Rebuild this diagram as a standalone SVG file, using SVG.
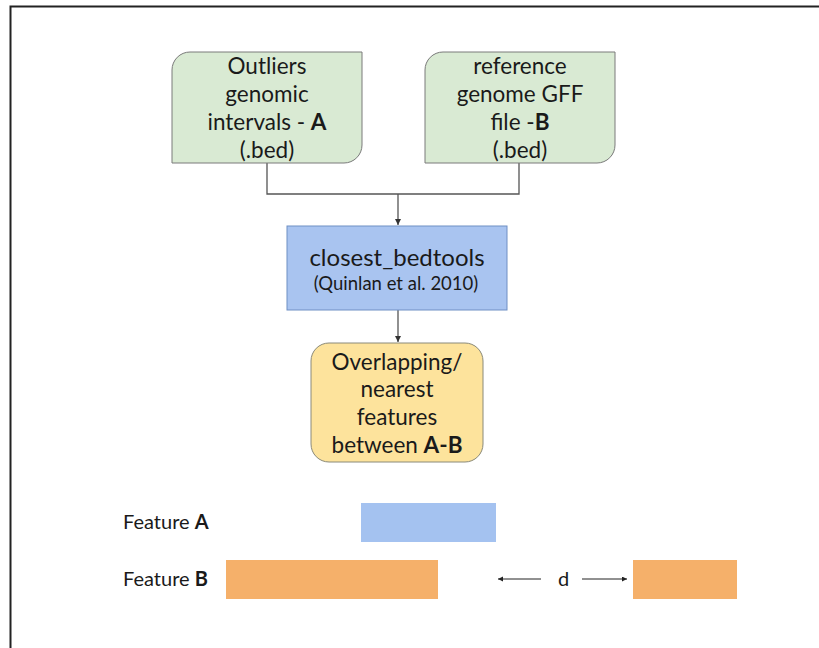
<svg xmlns="http://www.w3.org/2000/svg" width="819" height="648" viewBox="0 0 819 648">
<defs>
<style>
text{font-family:Lato,"Open Sans","Liberation Sans",sans-serif;fill:#1a1a1a;text-anchor:middle}
.big{font-size:22.5px}
.cb{font-size:24px}
.sm{font-size:18.5px}
.lbl{font-size:20px;text-anchor:start}
.b{font-weight:bold}
.green{fill:#d9ead3;stroke:#7a7a7a;stroke-width:1}
.conn{fill:none;stroke:#555;stroke-width:1.3}
.dim{fill:none;stroke:#222;stroke-width:1}
</style>
<marker id="ah" markerWidth="8" markerHeight="8" refX="6" refY="3" orient="auto" markerUnits="userSpaceOnUse">
<path d="M0,0 L6,3 L0,6 Z" fill="#333"/>
</marker>
<marker id="ah2" markerWidth="8" markerHeight="8" refX="5" refY="2.5" orient="auto" markerUnits="userSpaceOnUse">
<path d="M0,0 L5,2.5 L0,5 Z" fill="#222"/>
</marker>
</defs>
<rect width="819" height="648" fill="#fff"/>
<path d="M10.5,648 V6.5 H819" fill="none" stroke="#222" stroke-width="2"/>

<g id="connectors">
<path class="conn" d="M267,163 V194 H519 V163"/>
<path class="conn" d="M398,194 V225" marker-end="url(#ah)"/>
<path class="conn" d="M398,310 V342" marker-end="url(#ah)"/>
</g>

<g id="nodeA">
<path class="green" d="M190,52 H362 V145 A18,18 0 0 1 344,163 H172 V70 A18,18 0 0 1 190,52 Z"/>
<text class="big" x="267" y="74">Outliers</text>
<text class="big" x="267" y="102">genomic</text>
<text class="big" x="267" y="130">intervals - <tspan class="b">A</tspan></text>
<text class="big" x="267" y="158">(.bed)</text>
</g>

<g id="nodeB">
<path class="green" d="M443,52 H615 V145 A18,18 0 0 1 597,163 H425 V70 A18,18 0 0 1 443,52 Z"/>
<text class="big" x="520" y="74">reference</text>
<text class="big" x="520" y="102">genome GFF</text>
<text class="big" x="520" y="130">file -<tspan class="b">B</tspan></text>
<text class="big" x="520" y="158">(.bed)</text>
</g>

<g id="closest">
<rect x="287" y="226" width="220" height="84" fill="#a9c4f0" stroke="#6f8fc4" stroke-width="1"/>
<text class="cb" x="397" y="266">closest_bedtools</text>
<text class="sm" x="396" y="290">(Quinlan et al. 2010)</text>
</g>

<g id="result">
<rect x="311" y="343" width="172" height="119" rx="18" fill="#fde39c" stroke="#8a8a7a" stroke-width="1"/>
<text class="big" x="397" y="370">Overlapping/</text>
<text class="big" x="397" y="397">nearest</text>
<text class="big" x="397" y="425">features</text>
<text class="big" x="397" y="453">between <tspan class="b">A-B</tspan></text>
</g>

<g id="features">
<text class="lbl" x="123" y="529">Feature <tspan class="b">A</tspan></text>
<rect x="361" y="503" width="135" height="39" fill="#a4c2f0"/>
<text class="lbl" x="123" y="586">Feature <tspan class="b">B</tspan></text>
<rect x="226" y="560" width="212" height="39" fill="#f5b06a"/>
<rect x="633" y="560" width="104" height="39" fill="#f5b06a"/>
<path class="dim" d="M541,579 H498" marker-end="url(#ah2)"/>
<text class="lbl" x="558" y="586">d</text>
<path class="dim" d="M582,579 H627" marker-end="url(#ah2)"/>
</g>
</svg>
